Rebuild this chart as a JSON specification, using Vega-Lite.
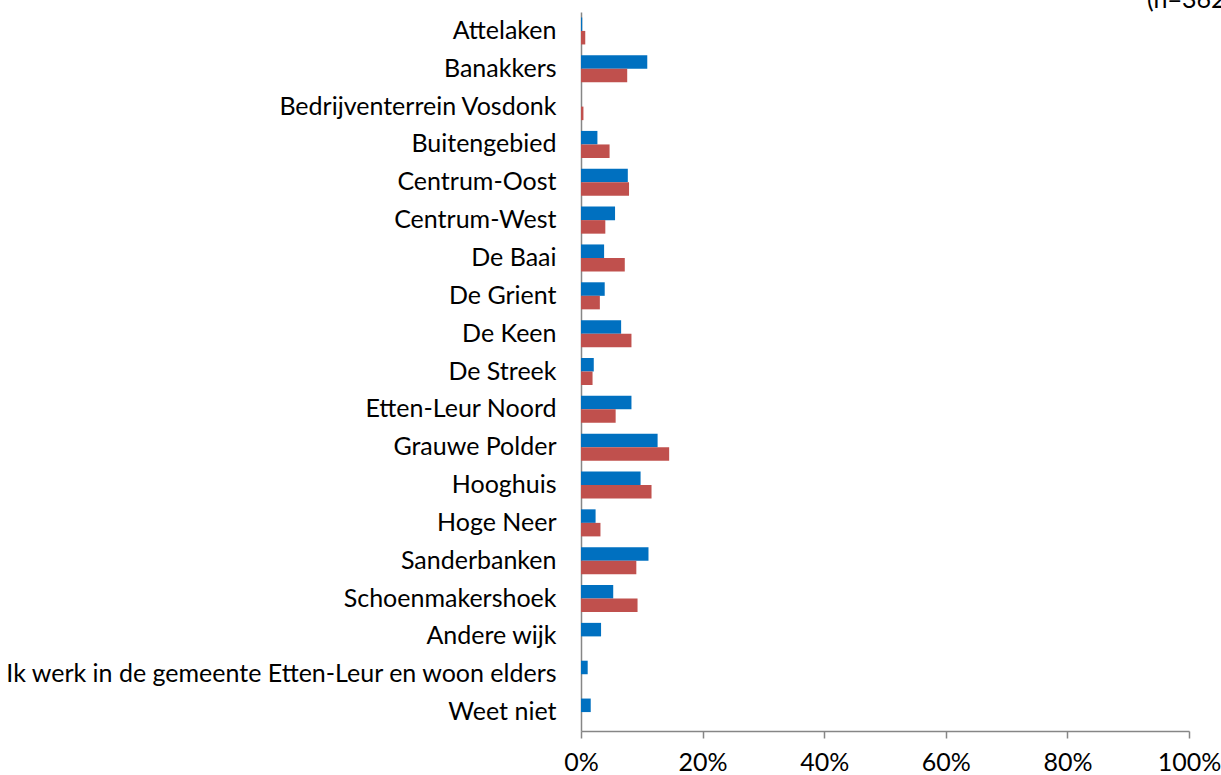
{
  "$schema": "https://vega.github.io/schema/vega-lite/v6.json",
  "width": 608,
  "height": 719,
  "autosize": {"type": "none"},
  "padding": {"left": 581, "top": 12, "right": 32, "bottom": 44},
  "background": "white",
  "title": {
    "text": "(n=362)",
    "anchor": "start",
    "frame": "group",
    "orient": "top",
    "dx": 566,
    "dy": 21,
    "offset": 0,
    "baseline": "alphabetic",
    "font": "Lato",
    "fontSize": 25,
    "fontWeight": "normal",
    "color": "#000000"
  },
  "config": {
    "view": {"stroke": null},
    "font": "Lato"
  },
  "data": {
    "values": [
      {"wijk": "Attelaken", "serie": "Reeks 1", "pct": 0.002},
      {"wijk": "Attelaken", "serie": "Reeks 2", "pct": 0.007},
      {"wijk": "Banakkers", "serie": "Reeks 1", "pct": 0.109},
      {"wijk": "Banakkers", "serie": "Reeks 2", "pct": 0.076},
      {"wijk": "Bedrijventerrein Vosdonk", "serie": "Reeks 1", "pct": 0.0},
      {"wijk": "Bedrijventerrein Vosdonk", "serie": "Reeks 2", "pct": 0.004},
      {"wijk": "Buitengebied", "serie": "Reeks 1", "pct": 0.027},
      {"wijk": "Buitengebied", "serie": "Reeks 2", "pct": 0.047},
      {"wijk": "Centrum-Oost", "serie": "Reeks 1", "pct": 0.077},
      {"wijk": "Centrum-Oost", "serie": "Reeks 2", "pct": 0.079},
      {"wijk": "Centrum-West", "serie": "Reeks 1", "pct": 0.056},
      {"wijk": "Centrum-West", "serie": "Reeks 2", "pct": 0.040},
      {"wijk": "De Baai", "serie": "Reeks 1", "pct": 0.038},
      {"wijk": "De Baai", "serie": "Reeks 2", "pct": 0.072},
      {"wijk": "De Grient", "serie": "Reeks 1", "pct": 0.039},
      {"wijk": "De Grient", "serie": "Reeks 2", "pct": 0.031},
      {"wijk": "De Keen", "serie": "Reeks 1", "pct": 0.066},
      {"wijk": "De Keen", "serie": "Reeks 2", "pct": 0.083},
      {"wijk": "De Streek", "serie": "Reeks 1", "pct": 0.021},
      {"wijk": "De Streek", "serie": "Reeks 2", "pct": 0.019},
      {"wijk": "Etten-Leur Noord", "serie": "Reeks 1", "pct": 0.083},
      {"wijk": "Etten-Leur Noord", "serie": "Reeks 2", "pct": 0.057},
      {"wijk": "Grauwe Polder", "serie": "Reeks 1", "pct": 0.126},
      {"wijk": "Grauwe Polder", "serie": "Reeks 2", "pct": 0.145},
      {"wijk": "Hooghuis", "serie": "Reeks 1", "pct": 0.098},
      {"wijk": "Hooghuis", "serie": "Reeks 2", "pct": 0.116},
      {"wijk": "Hoge Neer", "serie": "Reeks 1", "pct": 0.024},
      {"wijk": "Hoge Neer", "serie": "Reeks 2", "pct": 0.032},
      {"wijk": "Sanderbanken", "serie": "Reeks 1", "pct": 0.111},
      {"wijk": "Sanderbanken", "serie": "Reeks 2", "pct": 0.091},
      {"wijk": "Schoenmakershoek", "serie": "Reeks 1", "pct": 0.053},
      {"wijk": "Schoenmakershoek", "serie": "Reeks 2", "pct": 0.093},
      {"wijk": "Andere wijk", "serie": "Reeks 1", "pct": 0.033},
      {"wijk": "Andere wijk", "serie": "Reeks 2", "pct": 0.0},
      {"wijk": "Ik werk in de gemeente Etten-Leur en woon elders", "serie": "Reeks 1", "pct": 0.011},
      {"wijk": "Ik werk in de gemeente Etten-Leur en woon elders", "serie": "Reeks 2", "pct": 0.0},
      {"wijk": "Weet niet", "serie": "Reeks 1", "pct": 0.016},
      {"wijk": "Weet niet", "serie": "Reeks 2", "pct": 0.0}
    ]
  },
  "mark": {"type": "bar"},
  "encoding": {
    "y": {
      "field": "wijk",
      "type": "nominal",
      "sort": null,
      "scale": {"paddingInner": 0.285, "paddingOuter": 0.1425},
      "axis": {
        "title": null,
        "ticks": false,
        "labelPadding": 25,
        "labelFontSize": 25,
        "labelColor": "#000000",
        "labelLimit": 600,
        "domainColor": "#868686",
        "domainWidth": 1.5
      }
    },
    "yOffset": {
      "field": "serie",
      "type": "nominal",
      "sort": ["Reeks 1", "Reeks 2"],
      "scale": {"paddingInner": 0, "paddingOuter": 0}
    },
    "x": {
      "field": "pct",
      "type": "quantitative",
      "scale": {"domain": [0, 1], "nice": false},
      "axis": {
        "title": null,
        "values": [0, 0.2, 0.4, 0.6, 0.8, 1],
        "format": ".0%",
        "grid": false,
        "tickSize": 7,
        "tickColor": "#868686",
        "tickWidth": 1.5,
        "domainColor": "#868686",
        "domainWidth": 1.5,
        "labelFlush": false,
        "labelOverlap": false,
        "labelPadding": 12,
        "labelFontSize": 25,
        "labelColor": "#000000"
      }
    },
    "color": {
      "field": "serie",
      "type": "nominal",
      "scale": {"domain": ["Reeks 1", "Reeks 2"], "range": ["#0070C0", "#C0504D"]},
      "legend": null
    }
  }
}
